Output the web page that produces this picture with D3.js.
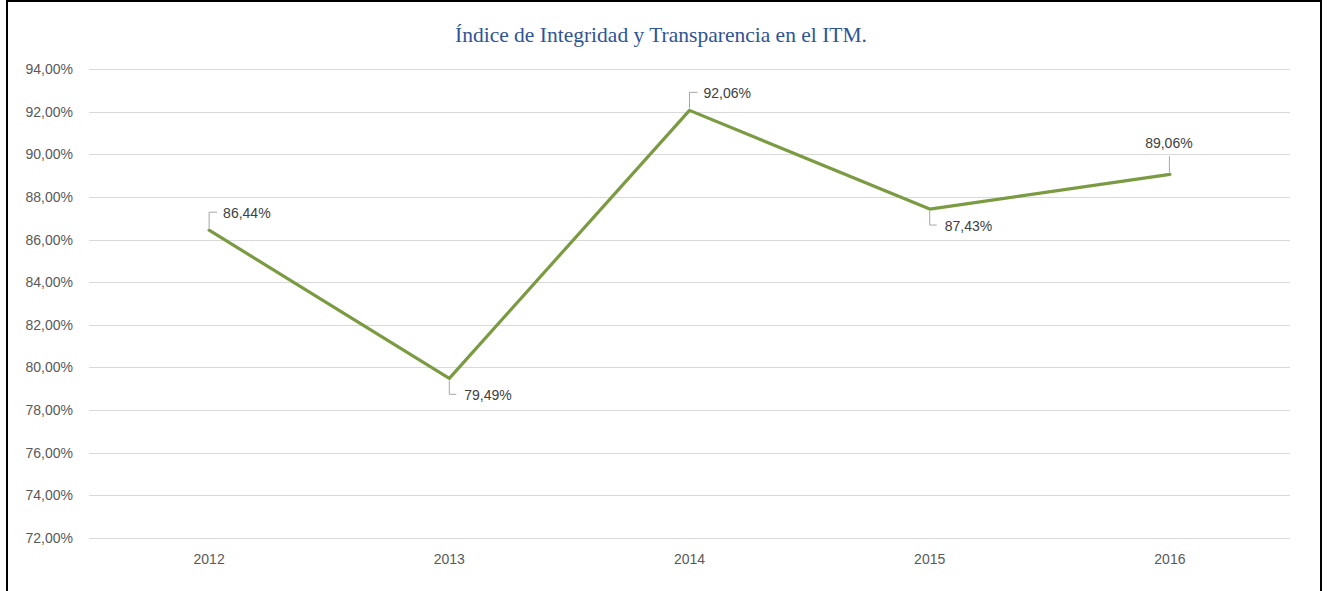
<!DOCTYPE html>
<html>
<head>
<meta charset="utf-8">
<script src="https://cdn.jsdelivr.net/npm/d3@7"></script>
<style>
  html, body { margin: 0; padding: 0; background: #ffffff; }
  svg { display: block; }
</style>
</head>
<body>
<svg id="chart" width="1327" height="591"></svg>
<script>
// ---- data ----
const categories = ["2012", "2013", "2014", "2015", "2016"];
const values = [86.44, 79.49, 92.06, 87.43, 89.06];
const yTicks = [72, 74, 76, 78, 80, 82, 84, 86, 88, 90, 92, 94];
const labelPlacement = ["up-right", "down-right", "up-right", "down-right", "up"];
const title = "Índice de Integridad y Transparencia en el ITM.";

// ---- layout ----
const W = 1327, H = 591;
const plot = { left: 89, right: 1290, top: 69, bottom: 538 };
const svg = d3.select("#chart");
const fmt = v => v.toFixed(2).replace(".", ",") + "%";

// frame
svg.append("rect")
  .attr("x", 7).attr("y", 1)
  .attr("width", 1314).attr("height", H + 10)
  .attr("fill", "#ffffff").attr("stroke", "#000000").attr("stroke-width", 2);

const x = d3.scaleBand().domain(categories).range([plot.left, plot.right]).padding(0);
const y = d3.scaleLinear().domain([72, 94]).range([plot.bottom, plot.top]);

// gridlines
svg.append("g").selectAll("line").data(yTicks).join("line")
  .attr("x1", plot.left).attr("x2", plot.right)
  .attr("y1", d => Math.round(y(d)) + 0.5).attr("y2", d => Math.round(y(d)) + 0.5)
  .attr("stroke", "#d9d9d9").attr("stroke-width", 1);

// y axis labels
const yAxis = d3.axisLeft(y).tickValues(yTicks).tickSize(0).tickPadding(0)
  .tickFormat(d => d.toFixed(2).replace(".", ",") + "%");
const gy = svg.append("g").attr("transform", `translate(73,0)`).call(yAxis);
gy.select(".domain").remove();
gy.selectAll("text")
  .attr("fill", "#595959")
  .style("font-family", "'Liberation Sans', Arial, sans-serif")
  .style("font-size", "14px");

// x axis labels
const xAxis = d3.axisBottom(x).tickSize(0).tickPadding(0);
const gx = svg.append("g").attr("transform", `translate(0,${plot.bottom})`).call(xAxis);
gx.select(".domain").remove();
gx.selectAll("text")
  .attr("y", 26).attr("dy", 0)
  .attr("fill", "#595959")
  .style("font-family", "'Liberation Sans', Arial, sans-serif")
  .style("font-size", "14px");

// line
const px = i => x(categories[i]) + x.bandwidth() / 2;
const line = d3.line().x((d, i) => px(i)).y(d => y(d));
svg.append("path").datum(values)
  .attr("d", line)
  .attr("fill", "none")
  .attr("stroke", "#7a9b41")
  .attr("stroke-width", 3.2)
  .attr("stroke-linejoin", "round")
  .attr("stroke-linecap", "round");

// data labels with leader lines
const gl = svg.append("g");
values.forEach((v, i) => {
  const cx = px(i), cy = y(v);
  const p = labelPlacement[i];
  let path, tx, ty, anchor = "start";
  if (p === "up-right") {
    path = `M${cx},${cy - 2}V${cy - 18}H${cx + 8}`;
    tx = cx + 14; ty = cy - 12;
  } else if (p === "down-right") {
    path = `M${cx},${cy + 2}V${cy + 16}H${cx + 7}`;
    tx = cx + 15; ty = cy + 22;
  } else {
    path = `M${cx - 0.5},${cy - 2}V${cy - 18}`;
    tx = cx - 1; ty = cy - 26; anchor = "middle";
  }
  gl.append("path").attr("d", path)
    .attr("fill", "none").attr("stroke", "#a6a6a6").attr("stroke-width", 1);
  gl.append("text")
    .attr("x", tx).attr("y", ty)
    .attr("text-anchor", anchor)
    .attr("fill", "#404040")
    .style("font-family", "'Liberation Sans', Arial, sans-serif")
    .style("font-size", "14px")
    .text(fmt(v));
});

// title
svg.append("text")
  .attr("x", 661).attr("y", 42)
  .attr("text-anchor", "middle")
  .attr("fill", "#2f5496")
  .style("font-family", "'Liberation Serif', 'Times New Roman', serif")
  .style("font-size", "21.5px")
  .text(title);
</script>
</body>
</html>
